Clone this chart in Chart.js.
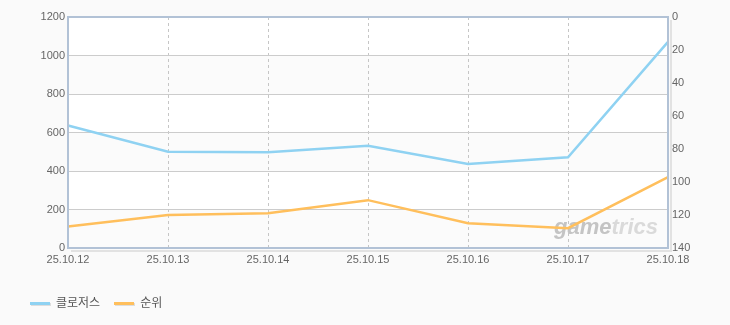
<!DOCTYPE html>
<html>
<head>
<meta charset="utf-8">
<script src="https://cdn.jsdelivr.net/npm/chart.js@4"></script>
<style>
  body { margin: 0; background: #fafafa; }
  #wrap { position: relative; width: 730px; height: 325px; }
  #leyenda { position: absolute; left: 30px; top: 293px; font: 12px 'Noto Sans CJK KR', sans-serif; color: #555; }
  #leyenda span { display: inline-block; margin-right: 14px; }
  #leyenda i { display: inline-block; width: 20px; height: 3px; margin-right: 6px; vertical-align: middle; box-shadow: 1px 1px 0 #ddd; }
</style>
</head>
<body>
<div id="wrap">
  <canvas id="myChart" width="730" height="325"></canvas>
  <div id="leyenda"></div>
</div>
<script>
const fechas = ['25.10.12', '25.10.13', '25.10.14', '25.10.15', '25.10.16', '25.10.17', '25.10.18'];
const nombresSeries = ['클로저스', '순위'];
const coloresSeries = ['#8fd2f2', '#ffbf5c'];
const valoresClosers = [636, 500, 497, 531, 436, 471, 1071];
const valoresRanking = [127, 120, 119, 111, 125, 128, 97];
const ticksIzq = [0, 200, 400, 600, 800, 1000, 1200];
const ticksDer = [0, 20, 40, 60, 80, 100, 120, 140];

const fuente = { family: "'Liberation Sans', 'Noto Sans CJK KR', sans-serif", size: 11 };

// bandas de fondo y marco del area
const marcoPlugin = {
    id: 'marco',
    beforeDraw(chart) {
        const { ctx, chartArea: a, scales } = chart;
        const y = scales.y;
        ctx.save();
        for (let i = 0; i < ticksIzq.length - 1; i++) {
            const y0 = y.getPixelForValue(ticksIzq[i]);
            const y1 = y.getPixelForValue(ticksIzq[i + 1]);
            ctx.fillStyle = i % 2 === 0 ? '#fbfbfb' : '#ffffff';
            ctx.fillRect(a.left, y1, a.right - a.left, y0 - y1);
        }
        ctx.restore();
    },
    beforeDatasetsDraw(chart) {
        const { ctx, chartArea: a } = chart;
        ctx.save();
        ctx.font = "italic bold 22px 'Liberation Sans', sans-serif";
        ctx.textBaseline = 'alphabetic';
        const w1 = ctx.measureText('game').width;
        const w2 = ctx.measureText('trics').width;
        const x0 = a.right - 10 - w1 - w2;
        ctx.fillStyle = '#c4c4c4';
        ctx.fillText('game', x0, a.bottom - 14);
        ctx.fillStyle = '#dadada';
        ctx.fillText('trics', x0 + w1, a.bottom - 14);
        ctx.restore();
    },
    afterDraw(chart) {
        const { ctx, chartArea: a } = chart;
        ctx.save();
        ctx.strokeStyle = '#e2e2e2';
        ctx.lineWidth = 2;
        ctx.beginPath();
        ctx.moveTo(a.right + 3, a.top + 3);
        ctx.lineTo(a.right + 3, a.bottom + 3);
        ctx.lineTo(a.left + 3, a.bottom + 3);
        ctx.stroke();
        ctx.strokeStyle = '#b2c2d6';
        ctx.strokeRect(a.left, a.top, a.right - a.left, a.bottom - a.top);
        ctx.restore();
    }
};

function crearGrafico() {
    const ctx = document.getElementById('myChart').getContext('2d');
    new Chart(ctx, {
        type: 'line',
        data: {
            labels: fechas,
            datasets: [{
                label: nombresSeries[0],
                data: valoresClosers,
                borderColor: coloresSeries[0],
                borderWidth: 2.5,
                pointRadius: 0,
                tension: 0,
                yAxisID: 'y'
            }, {
                label: nombresSeries[1],
                data: valoresRanking,
                borderColor: coloresSeries[1],
                borderWidth: 2.5,
                pointRadius: 0,
                tension: 0,
                yAxisID: 'y1'
            }]
        },
        options: {
            responsive: false,
            animation: false,
            layout: { padding: { top: 17, bottom: 57, left: 0, right: 0 } },
            plugins: { legend: { display: false }, tooltip: { enabled: false } },
            scales: {
                x: {
                    offset: false,
                    grid: {
                        color: c => (c.index === 0 || c.index === fechas.length - 1) ? 'transparent' : '#c6c6c6',
                        drawTicks: false
                    },
                    border: { display: false, dash: [3, 3] },
                    ticks: { color: '#666', font: fuente, padding: 5, maxRotation: 0, autoSkip: false },
                    afterFit: s => { s.height = 20; }
                },
                y: {
                    min: 0, max: 1200,
                    afterBuildTicks: s => { s.ticks = ticksIzq.map(v => ({ value: v })); },
                    grid: { color: '#cccccc', drawTicks: false },
                    border: { display: false },
                    ticks: { color: '#666', font: fuente, padding: 3, callback: v => String(v) },
                    afterFit: s => { s.width = 68; }
                },
                y1: {
                    position: 'right',
                    reverse: true,
                    min: 0, max: 140,
                    afterBuildTicks: s => { s.ticks = ticksDer.map(v => ({ value: v })); },
                    grid: { drawOnChartArea: false, drawTicks: false },
                    border: { display: false },
                    ticks: { color: '#666', font: fuente, padding: 4, callback: v => String(v) },
                    afterFit: s => { s.width = 62; }
                }
            }
        },
        plugins: [marcoPlugin]
    });

    const leyenda = document.getElementById('leyenda');
    nombresSeries.forEach((n, i) => {
        const item = document.createElement('span');
        item.innerHTML = '<i style="background:' + coloresSeries[i] + '"></i>' + n;
        leyenda.appendChild(item);
    });
}

document.addEventListener("DOMContentLoaded", () => {
    crearGrafico();
});
</script>
</body>
</html>
